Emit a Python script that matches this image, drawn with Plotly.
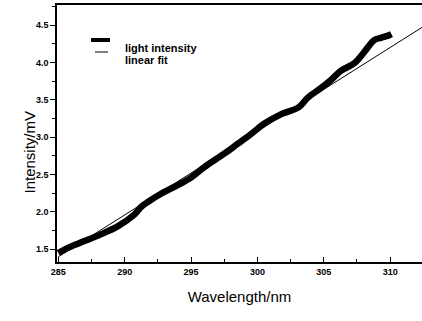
import plotly.graph_objects as go

wavelength = [285.0, 285.5, 286.0, 286.96, 288.2, 289.5, 290.7, 291.25, 291.8, 292.8,
              294.0, 295.0, 296.0, 297.5, 298.5, 299.5, 300.5, 301.8, 303.1, 303.8,
              304.8, 305.5, 306.3, 307.3, 308.0, 308.8, 309.3, 309.85, 310.1]
intensity = [1.45, 1.50, 1.54, 1.61, 1.70, 1.81, 1.96, 2.07, 2.14, 2.25,
             2.36, 2.46, 2.60, 2.78, 2.91, 3.04, 3.18, 3.31, 3.40, 3.53,
             3.66, 3.76, 3.89, 3.99, 4.13, 4.30, 4.33, 4.36, 4.38]

# linear fit end points
fit_wavelength = [285.0, 312.4]
fit_intensity = [1.40, 4.47]

x_ticks = [285, 290, 295, 300, 305, 310]
y_ticks = [1.5, 2.0, 2.5, 3.0, 3.5, 4.0, 4.5]

W, H = 422, 321
ML, MT, MB = 57, 5, 59
pw, ph = W - ML, H - MT - MB

def px(x):
    return (x - ML) / pw

def py(y):
    return (H - MB - y) / ph

fig = go.Figure()
fig.add_trace(go.Scatter(x=wavelength, y=intensity, mode="lines",
                         line=dict(color="black", width=6.5, shape="spline"),
                         name="light intensity"))
fig.add_trace(go.Scatter(x=fit_wavelength, y=fit_intensity, mode="lines",
                         line=dict(color="black", width=1),
                         name="linear fit"))

tickfont = dict(family="Liberation Sans", size=9, color="black", weight="bold")

fig.update_xaxes(range=[284.9, 312.4], tickvals=x_ticks, ticktext=[str(v) for v in x_ticks],
                 showline=True, linecolor="black", linewidth=1.5, mirror=True,
                 ticks="inside", ticklen=5, tickcolor="black",
                 minor=dict(ticks="inside", ticklen=3, dtick=2.5, tickcolor="black"),
                 showgrid=False, zeroline=False, tickfont=tickfont,
                 title=dict(text="Wavelength/nm", font=dict(family="Liberation Sans", size=15, color="black"),
                            standoff=16))
fig.update_yaxes(range=[1.33, 4.77], tickvals=y_ticks, ticktext=[f"{v:.1f}" for v in y_ticks],
                 showline=True, linecolor="black", linewidth=1.5, mirror=False,
                 ticks="outside", ticklen=5, tickcolor="black",
                 minor=dict(ticks="outside", ticklen=3, dtick=0.25, tickcolor="black"),
                 showgrid=False, zeroline=False, tickfont=tickfont)

# y title
fig.add_annotation(text="Intensity/mV", xref="paper", yref="paper", x=px(18), y=py(152),
                   textangle=-90, showarrow=False,
                   font=dict(family="Liberation Sans", size=15, color="black"))

# legend drawn manually
fig.add_shape(type="line", xref="paper", yref="paper", x0=px(91), x1=px(110), y0=py(40), y1=py(40),
              line=dict(color="black", width=4))
fig.add_shape(type="line", xref="paper", yref="paper", x0=px(95), x1=px(108), y0=py(52), y1=py(52),
              line=dict(color="black", width=1))
fig.add_annotation(text="light intensity", xref="paper", yref="paper", x=px(123), y=py(40),
                   xanchor="left", showarrow=False,
                   font=dict(family="Liberation Sans", size=11, color="black", weight="bold"))
fig.add_annotation(text="linear fit", xref="paper", yref="paper", x=px(123), y=py(52),
                   xanchor="left", showarrow=False,
                   font=dict(family="Liberation Sans", size=11, color="black", weight="bold"))

fig.update_layout(width=W, height=H, margin=dict(l=ML, r=0, t=MT, b=MB),
                  plot_bgcolor="white", paper_bgcolor="white", showlegend=False)

fig.write_html("out.html", config={"displayModeBar": False},
               post_script="document.body.style.margin='0';")
